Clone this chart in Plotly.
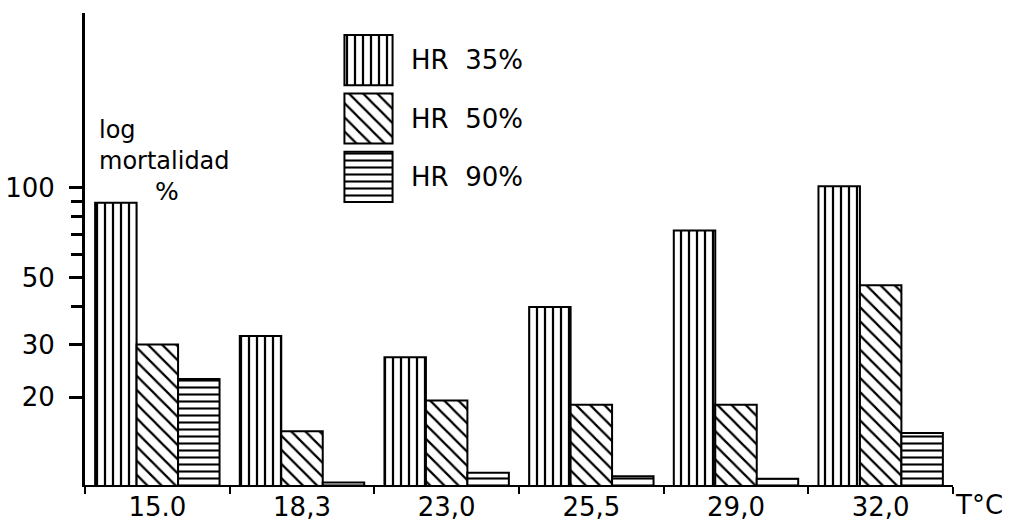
import plotly.graph_objects as go

# Temperature classes (x categories) and log-scale mortality per relative humidity
temperaturas = ["15.0", "18,3", "23,0", "25,5", "29,0", "32,0"]
series = ["HR 35%", "HR 50%", "HR 90%"]
hr35 = [89, 32, 27.2, 40, 72, 101]
hr50 = [30, 15.4, 19.5, 18.9, 18.9, 47.3]
hr90 = [23, 10.4, 11.2, 10.9, 10.7, 15.2]

y_ticks = [20, 30, 50, 100]
y_minor = [40, 60, 70, 80, 90]

patterns = {"HR 35%": ("|", 8, 0.28), "HR 50%": ("\\", 10, 0.22), "HR 90%": ("-", 7, 0.3)}
FONT = "DejaVu Sans"

fig = go.Figure()
for name, vals in zip(series, [hr35, hr50, hr90]):
    shape, size, sol = patterns[name]
    fig.add_trace(go.Bar(
        x=temperaturas, y=vals, name=name, showlegend=False,
        marker=dict(color="white", line=dict(color="black", width=2),
                    pattern=dict(shape=shape, size=size, solidity=sol,
                                 fgcolor="black", bgcolor="white", fillmode="replace")),
    ))

# Key: large hatched swatches drawn as horizontal bars on a small inset axis
fig.add_trace(go.Bar(
    y=series, x=[1, 1, 1], orientation="h", xaxis="x2", yaxis="y2", showlegend=False,
    marker=dict(color="white", line=dict(color="black", width=2),
                pattern=dict(shape=[patterns[s][0] for s in series],
                             size=[patterns[s][1] for s in series],
                             solidity=[patterns[s][2] for s in series],
                             fgcolor="black", bgcolor="white", fillmode="replace")),
    hoverinfo="skip",
))


def py(pixel_y):
    """Convert a vertical pixel offset inside the figure to paper coordinates."""
    return 1 - (pixel_y - 13) / 472


def px(pixel_x):
    return (pixel_x - 85) / 868


fig.update_layout(
    width=1012, height=521,
    margin=dict(l=85, r=59, t=13, b=36, autoexpand=False),
    paper_bgcolor="white", plot_bgcolor="white",
    barmode="group", bargap=0.14, bargroupgap=0,
    font=dict(family=FONT, color="black", size=26),
    xaxis=dict(
        type="category", showline=True, linecolor="black", linewidth=2,
        ticks="outside", ticklen=7, tickwidth=2, tickcolor="black",
        tickson="boundaries", showgrid=False, zeroline=False,
        tickfont=dict(size=26), automargin=False, ticklabelstandoff=-2,
    ),
    yaxis=dict(
        type="log", range=[1.0086, 2.582], showline=True, linecolor="black", linewidth=3,
        tickmode="array", tickvals=y_ticks, ticktext=[str(v) for v in y_ticks],
        ticks="outside", ticklen=13, tickwidth=3, tickcolor="black",
        minor=dict(tickmode="array", tickvals=y_minor, ticks="outside",
                   ticklen=11, tickwidth=3, tickcolor="black", showgrid=False),
        showgrid=False, zeroline=False, tickfont=dict(size=26),
        ticklabelstandoff=9, automargin=False,
    ),
    xaxis2=dict(domain=[px(343), px(394)], anchor="y2", range=[-0.03, 1.03], visible=False),
    yaxis2=dict(
        domain=[py(206), py(31)], anchor="x2", side="right",
        autorange="reversed", type="category",
        showline=False, showgrid=False, zeroline=False, ticks="",
        tickfont=dict(size=26), ticklabelstandoff=16, automargin=False,
        labelalias={s: s.replace(" ", "\u00a0\u00a0") for s in series},
    ),
    annotations=[
        dict(text="log<br>mortalidad", xref="paper", yref="paper", x=px(97), y=py(114),
             xanchor="left", yanchor="top", align="left", showarrow=False,
             font=dict(size=24)),
        dict(text="%", xref="paper", yref="paper", x=px(167), y=py(191),
             xanchor="center", yanchor="middle", showarrow=False, font=dict(size=25)),
        dict(text="T°C", xref="paper", yref="paper", x=1.0, y=py(505),
             xanchor="left", yanchor="middle", showarrow=False),
    ],
)

fig.write_html("out.html")
